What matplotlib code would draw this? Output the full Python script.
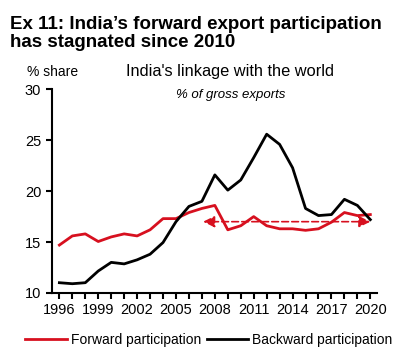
import matplotlib
matplotlib.use("Agg")
import matplotlib.pyplot as plt
from matplotlib.lines import Line2D

plt.rcParams['font.family'] = ['Liberation Sans', 'DejaVu Sans']

years = list(range(1996, 2021))
forward = [14.7, 15.6, 15.8, 15.05, 15.5, 15.8, 15.6, 16.2, 17.3, 17.3,
           17.9, 18.3, 18.6, 16.2, 16.6, 17.5, 16.6, 16.3, 16.3, 16.15,
           16.3, 16.95, 17.9, 17.6, 17.7]
backward = [11.0, 10.9, 11.0, 12.15, 13.0, 12.85, 13.25, 13.8, 14.95, 17.0,
            18.5, 19.0, 21.6, 20.1, 21.1, 23.3, 25.6, 24.6, 22.3, 18.3,
            17.6, 17.7, 19.2, 18.6, 17.2]
tick_years = list(range(1996, 2021, 3))
arrow_start, arrow_end, arrow_level = 2007.1, 2020.0, 17.0

red = '#d7101f'

fig = plt.figure(figsize=(4.0, 3.55), dpi=100)
ax = fig.add_axes([0.129, 0.175, 0.813, 0.573])

ax.plot(years, forward, color=red, lw=2, label='Forward participation')
ax.plot(years, backward, color='black', lw=2, label='Backward participation')

# dashed double arrow showing the flat trend
ax.annotate('', xy=(arrow_start, arrow_level), xytext=(arrow_end, arrow_level),
            arrowprops=dict(arrowstyle='<|-|>', color=red, lw=1.2, ls=(0, (4, 2)),
                            mutation_scale=17, shrinkA=0, shrinkB=0))

ax.set_xlim(1995.4, 2020.5)
ax.set_ylim(10, 30)
ax.set_yticks([10, 15, 20, 25, 30])
ax.set_xticks(tick_years)
ax.set_xticks(years, minor=True)
ax.tick_params(axis='both', which='both', direction='out', width=1.5, labelsize=10.5)
ax.tick_params(axis='x', which='both', length=4)
ax.tick_params(axis='y', length=4)
for s in ['top', 'right']:
    ax.spines[s].set_visible(False)
for s in ['left', 'bottom']:
    ax.spines[s].set_linewidth(1.5)

fig.text(0.025, 0.955, "Ex 11: India\u2019s forward export participation\nhas stagnated since 2010",
         fontsize=13.5, fontweight='bold', va='top', ha='left', linespacing=1.1)
fig.text(0.067, 0.778, '% share', fontsize=10, ha='left', va='bottom')
fig.text(0.575, 0.778, "India's linkage with the world", fontsize=11.8, ha='center', va='bottom')
fig.text(0.577, 0.716, '% of gross exports', fontsize=9.5, style='italic', ha='center', va='bottom')

handles = [Line2D([], [], color=red, lw=2), Line2D([], [], color='black', lw=2)]
fig.legend(handles, ['Forward participation', 'Backward participation'],
           loc='center', bbox_to_anchor=(0.522, 0.042), ncol=2, frameon=False,
           fontsize=10, handlelength=3, columnspacing=0.4, handletextpad=0.3)

fig.savefig('out.png', dpi=100)
